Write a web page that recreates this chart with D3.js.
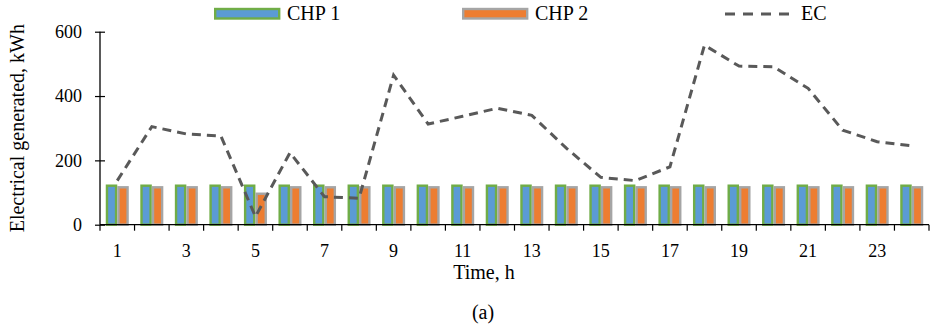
<!DOCTYPE html>
<html>
<head>
<meta charset="utf-8">
<script src="https://cdn.jsdelivr.net/npm/d3@7"></script>
<style>
  body { margin: 0; background: #fff; }
  text { font-family: 'Liberation Serif', 'Times New Roman', Times, serif; }
</style>
</head>
<body>
<div id="chart"></div>
<script>
// data
const hours = d3.range(1, 25)
const chp1 = [125,125,125,125,125,125,125,125,125,125,125,125,125,125,125,125,125,125,125,125,125,125,125,125]
const chp2 = [120,120,120,120,100,120,120,120,120,120,120,120,120,120,120,120,120,120,120,120,120,120,120,120]
const ec = [137,305,282,276,25,224,87,82,465,313,337,362,340,238,147,137,180,558,493,491,424,294,258,245]
const yTicks = [0, 200, 400, 600]

const width = 938
const height = 330
const margin = ({top: 31.7, right: 9, bottom: 105.3, left: 100})
const fs = 20      // titles, legend
const fsTick = 18  // tick labels

const series = [
  {key: "CHP 1", values: chp1, fill: "#5B9BD5", stroke: "#70AD47"},
  {key: "CHP 2", values: chp2, fill: "#ED7D31", stroke: "#A5A5A5"}
]

const svg = d3.select("#chart").append("svg")
    .attr("width", width)
    .attr("height", height)
    .style("display", "block")

const x = d3.scaleBand()
    .domain(hours)
    .range([margin.left, width - margin.right])
    .paddingInner(0)

const xs = d3.scaleBand()
    .domain(series.map(d => d.key))
    .range([x.bandwidth() / 6, x.bandwidth() * 5 / 6])

const y = d3.scaleLinear()
    .domain([0, 600])
    .range([height - margin.bottom, margin.top])

// bars
series.forEach(s => {
  svg.append("g")
    .selectAll("rect")
    .data(s.values)
    .join("rect")
      .attr("x", (d, i) => x(hours[i]) + xs(s.key) + 1.2)
      .attr("y", d => y(d) + 1.2)
      .attr("width", xs.bandwidth() - 2.4)
      .attr("height", d => y(0) - y(d) - 1.2)
      .attr("fill", s.fill)
      .attr("stroke", s.stroke)
      .attr("stroke-width", 2.4)
})

// x axis
svg.append("g")
    .attr("transform", `translate(0,${y(0)})`)
    .call(g => g.append("line")
        .attr("x1", margin.left).attr("x2", width - margin.right)
        .attr("stroke", "#000").attr("stroke-width", 1.3))
    .call(g => g.selectAll(".tk")
      .data(d3.range(hours.length + 1))
      .join("line")
        .attr("class", "tk")
        .attr("x1", i => margin.left + i * x.bandwidth())
        .attr("x2", i => margin.left + i * x.bandwidth())
        .attr("y1", 0).attr("y2", 6)
        .attr("stroke", "#000").attr("stroke-width", 1.2))
    .call(g => g.selectAll("text")
      .data(hours.filter(h => h % 2 == 1))
      .join("text")
        .attr("x", d => x(d) + x.bandwidth() / 2)
        .attr("y", 32)
        .attr("text-anchor", "middle")
        .attr("font-size", fsTick)
        .text(d => d))

// y axis
svg.append("g")
    .attr("transform", `translate(${margin.left},0)`)
    .call(d3.axisLeft(y).tickValues(yTicks).tickSize(5).tickPadding(13))
    .call(g => g.attr("font-family", null).attr("font-size", fsTick))
    .call(g => g.select(".domain").remove())
    .call(g => g.append("line")
        .attr("y1", y(600)).attr("y2", y(0))
        .attr("stroke", "#000").attr("stroke-width", 1.3))
    .call(g => g.selectAll(".tick line").clone().attr("x2", 5))
    .call(g => g.selectAll(".tick line").attr("stroke-width", 1.2))
    .call(g => g.selectAll(".tick text").attr("fill", "#000"))

// EC line
const line = d3.line()
    .x((d, i) => x(hours[i]) + x.bandwidth() / 2)
    .y(d => y(d))

svg.append("path")
    .datum(ec)
    .attr("d", line)
    .attr("fill", "none")
    .attr("stroke", "#595959")
    .attr("stroke-width", 3)
    .attr("stroke-dasharray", "9,6")

// axis titles
svg.append("text")
    .attr("transform", `translate(24,${(y(0) + y(600)) / 2}) rotate(-90)`)
    .attr("text-anchor", "middle")
    .attr("font-size", fs)
    .text("Electrical generated, kWh")

svg.append("text")
    .attr("x", 484)
    .attr("y", 279)
    .attr("text-anchor", "middle")
    .attr("font-size", fs)
    .text("Time, h")

svg.append("text")
    .attr("x", 483)
    .attr("y", 319)
    .attr("text-anchor", "middle")
    .attr("font-size", fs)
    .text("(a)")

// legend
const legend = svg.append("g").attr("font-size", fs)
const legendX = [214, 462]
series.forEach((s, i) => {
  legend.append("rect")
      .attr("x", legendX[i] + 1.2).attr("y", 9)
      .attr("width", 64).attr("height", 9.5)
      .attr("fill", s.fill)
      .attr("stroke", s.stroke)
      .attr("stroke-width", 2.4)
  legend.append("text")
      .attr("x", legendX[i] + 73).attr("y", 20)
      .text(s.key)
})
legend.append("line")
    .attr("x1", 725).attr("x2", 792)
    .attr("y1", 14).attr("y2", 14)
    .attr("stroke", "#595959")
    .attr("stroke-width", 3)
    .attr("stroke-dasharray", "10,8")
legend.append("text")
    .attr("x", 801).attr("y", 20)
    .text("EC")
</script>
</body>
</html>
